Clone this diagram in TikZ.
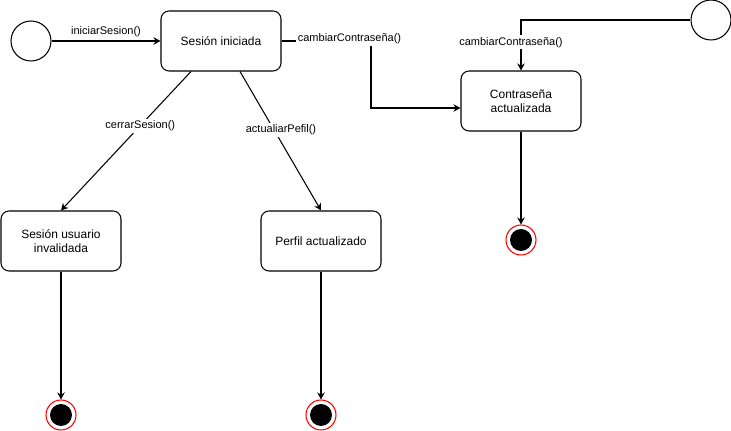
\documentclass[tikz,border=0pt]{standalone}
\usepackage{fontspec}
\setmainfont{Liberation Sans}
\usetikzlibrary{positioning,calc,arrows.meta}

\tikzset{
  statebox/.style={draw, rounded corners=0.16cm, minimum width=2.4cm, minimum height=1.2cm,
    align=center, line width=0.6pt, font=\fontsize{6.83}{7.9}\selectfont},
  initstate/.style={draw, circle, minimum size=0.8cm, line width=0.6pt, fill=white},
  endstate/.style={draw=red, circle, minimum size=0.6cm, line width=0.6pt, fill=white,
    path picture={\fill[black] (path picture bounding box.center) circle (0.22cm);}},
  trans/.style={-{Stealth[length=0.14cm,width=0.15cm]}, line width=0.6pt},
  lbl/.style={font=\fontsize{6.26}{7.5}\selectfont, fill=white, inner sep=1pt}
}

\begin{document}
\begin{tikzpicture}[x=0.02cm,y=-0.02cm]
    \useasboundingbox (0,0) rectangle (731,431);

    % States
    \node[initstate] (inicio) at (31,41) {};
    \node[initstate] (inicio2) at (711,20) {};
    \node[statebox] (sesion) at (221,41) {Sesión iniciada};
    \node[statebox] (contra) at (521,101) {Contraseña\\actualizada};
    \node[statebox] (usuario) at (61,241) {Sesión usuario\\invalidada};
    \node[statebox] (perfil) at (321,241) {Perfil actualizado};
    \node[endstate] (fin1) at (61,415) {};
    \node[endstate] (fin2) at (321,415) {};
    \node[endstate] (fin3) at (521,240) {};

    % Transitions
    \coordinate (codo) at (371,108);
    \draw[trans] (inicio) -- node[lbl, fill=none, above=1pt] {iniciarSesion()} (sesion);
    \draw[trans] (sesion.east) -| node[lbl, pos=0.38, yshift=0.04cm] {cambiarContraseña()} (codo) -- (contra.west |- codo);
    \draw[trans] (inicio2.west) -| node[lbl, pos=0.72, xshift=-0.2cm] {cambiarContraseña()} (contra.north);
    \draw[trans] ($(sesion.south)+(-30,0)$) -- node[lbl, pos=0.39] {cerrarSesion()} (usuario.north);
    \draw[trans] ($(sesion.south)+(19,0)$) -- node[lbl, pos=0.42, xshift=0.14cm] {actualiarPefil()} (perfil.north);
    \draw[trans] (usuario) -- (fin1);
    \draw[trans] (perfil) -- (fin2);
    \draw[trans] (contra) -- (fin3);
\end{tikzpicture}
\end{document}
